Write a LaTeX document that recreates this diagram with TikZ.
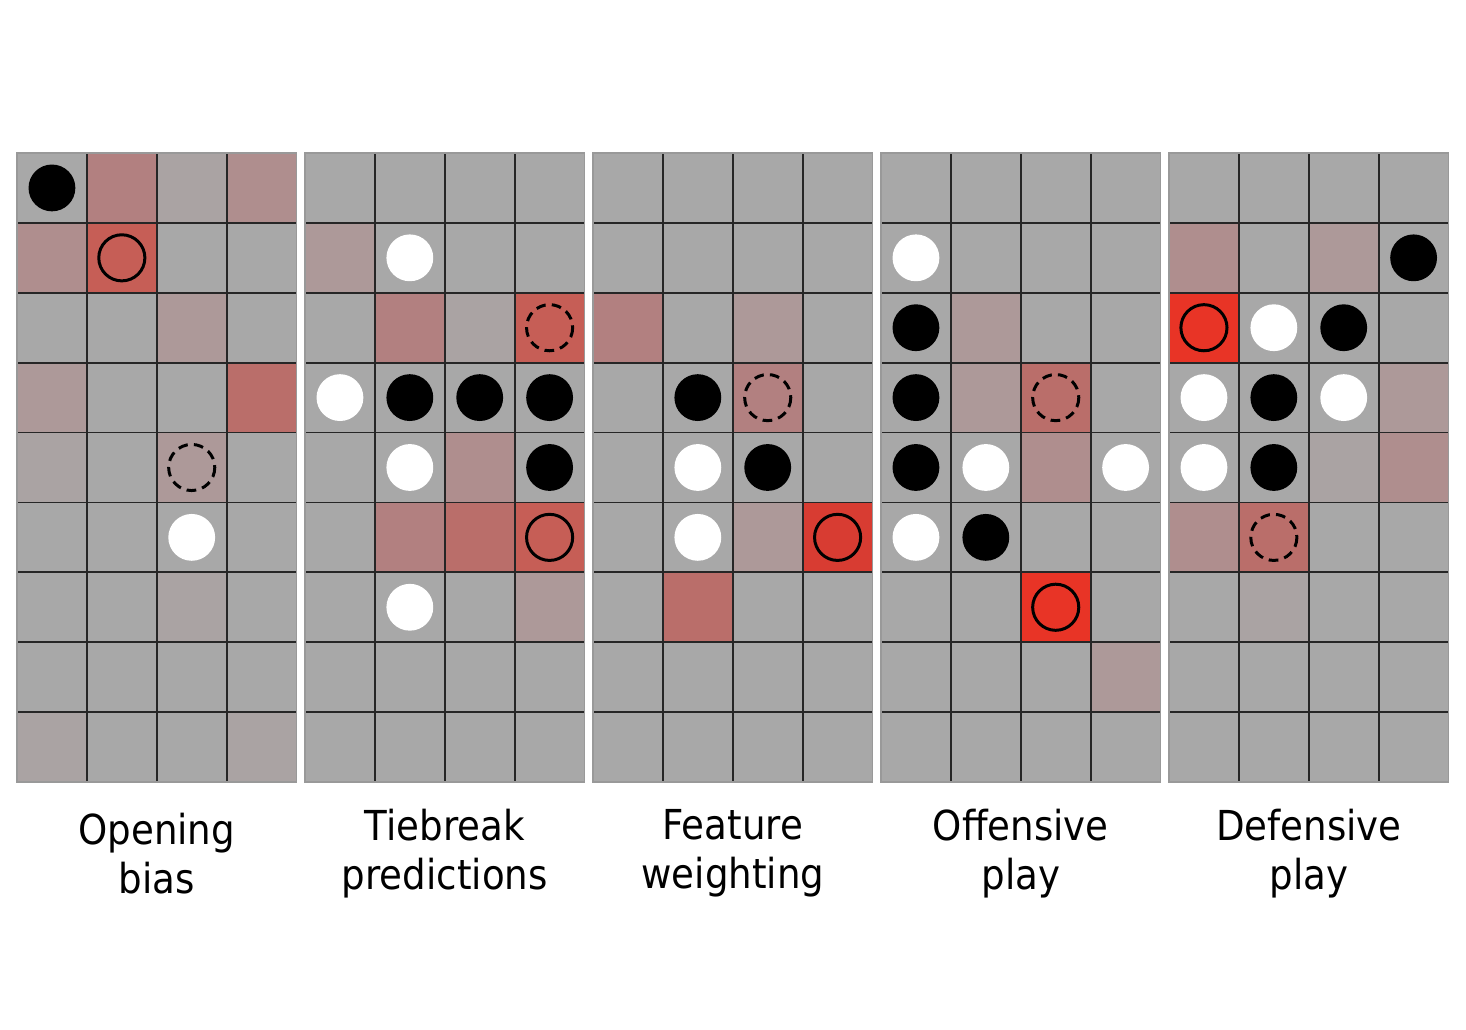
\documentclass[tikz,border=0pt]{standalone}
\usepackage{fontspec}
\setmainfont{DejaVu Sans Condensed}
\definecolor{cellgray}{RGB}{168,168,168}
\definecolor{redA}{RGB}{170,163,163}
\definecolor{redB}{RGB}{173,153,153}
\definecolor{redC}{RGB}{175,142,142}
\definecolor{redD}{RGB}{178,128,128}
\definecolor{redE}{RGB}{186,110,106}
\definecolor{redF}{RGB}{198,94,86}
\definecolor{redG}{RGB}{216,60,50}
\definecolor{redH}{RGB}{232,52,38}

\begin{document}
\begin{tikzpicture}[x=0.02cm, y=-0.02cm,
  gridline/.style={draw=black!85, line width=1pt},
  frame/.style={draw=black!40, line width=0.9pt},
  move/.style={draw=black, line width=1.7pt},
  guess/.style={draw=black, line width=1.7pt, dash pattern=on 5.5pt off 3.5pt},
  caption/.style={align=center, font=\fontsize{23.5}{28}\selectfont}]
\useasboundingbox (0,0) rectangle (1466,1030);

\foreach \x/\tints/\blk/\wht/\mv/\gs/\txt [count=\b] in {
  17/{2/1/redD, 3/1/redA, 4/1/redC, 1/2/redC, 2/2/redF, 3/3/redB, 1/4/redB, 4/4/redE, 1/5/redA, 3/5/redB, 3/7/redA, 1/9/redA, 4/9/redA}/{1/1}/{3/6}/{2/2}/{3/5}/{Opening\\bias},
  305/{1/2/redB, 2/3/redD, 3/3/redA, 4/3/redF, 3/5/redC, 2/6/redD, 3/6/redE, 4/6/redF, 4/7/redB}/{2/4, 3/4, 4/4, 4/5}/{2/2, 1/4, 2/5, 2/7}/{4/6}/{4/3}/{Tiebreak\\predictions},
  593/{1/3/redD, 3/3/redB, 3/4/redD, 3/6/redB, 4/6/redG, 2/7/redE}/{2/4, 3/5}/{2/5, 2/6}/{4/6}/{3/4}/{Feature\\weighting},
  881/{2/3/redB, 2/4/redB, 3/4/redE, 3/5/redC, 3/7/redH, 4/8/redB}/{1/3, 1/4, 1/5, 2/6}/{1/2, 2/5, 4/5, 1/6}/{3/7}/{3/4}/{Offensive\\play},
  1169/{1/2/redC, 3/2/redB, 1/3/redH, 4/4/redB, 3/5/redA, 4/5/redC, 1/6/redC, 2/6/redE, 2/7/redA}/{4/2, 3/3, 2/4, 2/5}/{2/3, 1/4, 3/4, 1/5}/{1/3}/{2/6}/{Defensive\\play}}{
\begin{scope}[shift={(\x,153)}, x=1.398cm, y=-1.398cm]
  \fill[cellgray] (0,0) rectangle (4,9);
  \foreach \c/\r/\col in \tints
    \fill[\col] (\c-1,\r-1) rectangle (\c,\r);
  \foreach \i in {1,2,3}
    \draw[gridline] (\i,0) -- (\i,9);
  \foreach \j in {1,...,8}
    \draw[gridline] (0,\j) -- (4,\j);
  \draw[frame] (0,0) rectangle (4,9);
  \foreach \c/\r in \blk
    \fill[black] (\c-0.5,\r-0.5) circle[radius=0.335];
  \foreach \c/\r in \wht
    \fill[white] (\c-0.5,\r-0.5) circle[radius=0.335];
  \foreach \c/\r in \mv
    \draw[move] (\c-0.5,\r-0.5) circle[radius=0.33];
  \foreach \c/\r in \gs
    \draw[guess] (\c-0.5,\r-0.5) circle[radius=0.33];
  \node[caption] (label\b) at (2,10.02) {\txt};
\end{scope}
}
\end{tikzpicture}
\end{document}
